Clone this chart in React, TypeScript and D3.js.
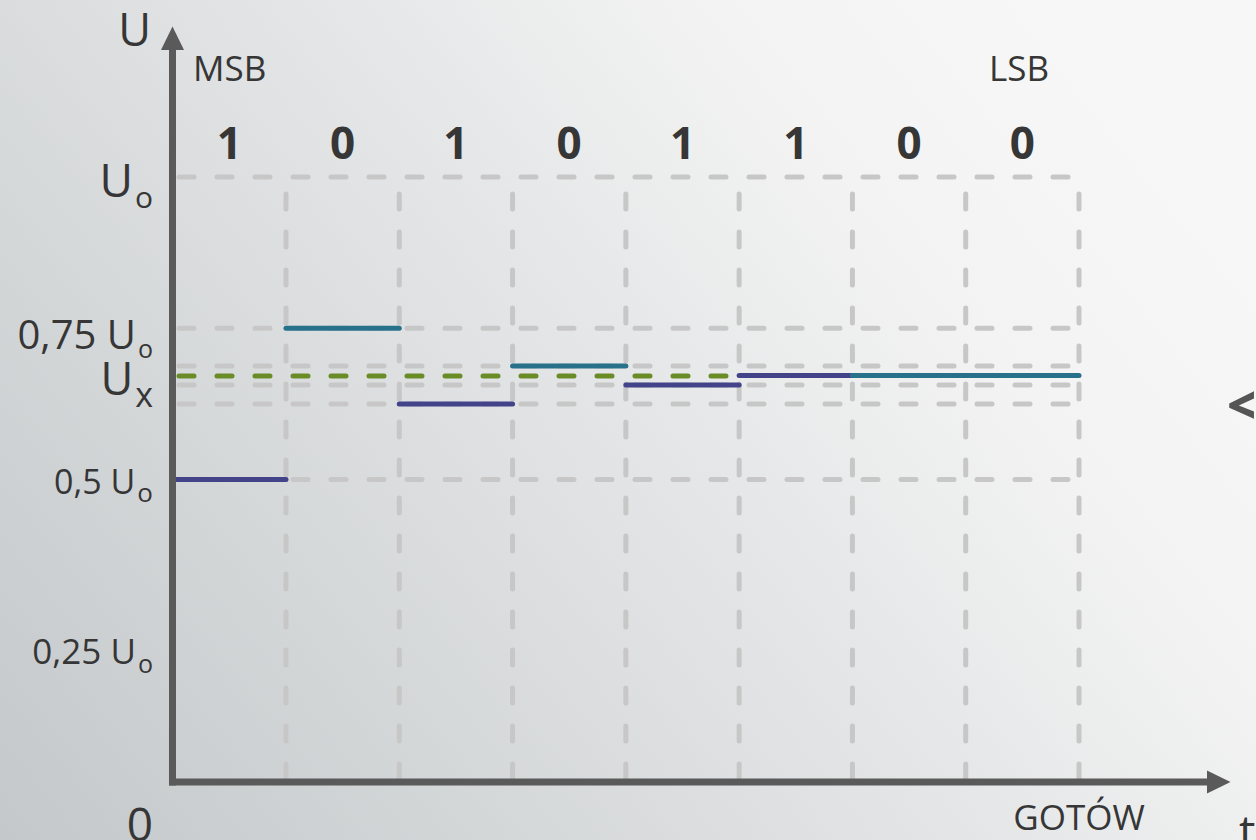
import * as d3 from "d3";
import { useEffect, useRef } from "react";

// 8-bit successive approximation, MSB -> LSB
const bits = ["1", "0", "1", "0", "1", "1", "0", "0"];
const trialLevels = [0.5, 0.75, 0.625, 0.6875, 0.65625, 0.671875, 0.671875, 0.671875];
const gridLevels = [1, 0.75, 0.6875, 0.65625, 0.625, 0.5];
const ux = 0.671;

const yTickValues = [1, 0.75, ux, 0.5, 0.25, 0];
const yTickMain = ["U", "0,75 U", "U", "0,5 U", "0,25 U", "0"];
const yTickSub = ["o", "o", "x", "o", "o", ""];

const W = 1256;
const H = 840;

export default function App() {
  const ref = useRef<SVGSVGElement>(null);

  useEffect(() => {
    const svg = d3.select(ref.current);
    svg.selectAll("*").remove();

    const x = d3.scaleLinear().domain([0, 8]).range([172.7, 1079]);
    const y = d3.scaleLinear().domain([0, 1]).range([782, 177]);

    const font = "'Open Sans', 'Noto Sans', sans-serif";
    const ink = "#363636";
    const axisCol = "#5a5a5a";
    const gridCol = "#c7c7c7";
    const colors = { "1": "#424389", "0": "#28718a" };

    // background
    const defs = svg.append("defs");
    const grad = defs
      .append("linearGradient")
      .attr("id", "bg")
      .attr("gradientUnits", "userSpaceOnUse")
      .attr("x1", 0)
      .attr("y1", H)
      .attr("x2", 1050)
      .attr("y2", 0);
    grad.append("stop").attr("offset", 0).attr("stop-color", "#c4c8ca");
    grad.append("stop").attr("offset", 0.5).attr("stop-color", "#e0e2e3");
    grad.append("stop").attr("offset", 0.8).attr("stop-color", "#f3f3f3");
    grad.append("stop").attr("offset", 1).attr("stop-color", "#f7f7f7");
    svg.append("rect").attr("width", W).attr("height", H).attr("fill", "url(#bg)");

    // dashed grid
    const grid = svg
      .append("g")
      .attr("stroke", gridCol)
      .attr("stroke-width", 5)
      .attr("stroke-linecap", "round")
      .attr("stroke-dasharray", "15 23");
    grid
      .selectAll("line.h")
      .data(gridLevels)
      .join("line")
      .attr("class", "h")
      .attr("x1", 179)
      .attr("x2", x(8))
      .attr("y1", (d) => y(d))
      .attr("y2", (d) => y(d));
    grid
      .selectAll("line.v")
      .data(d3.range(1, 9))
      .join("line")
      .attr("class", "v")
      .attr("x1", (d) => x(d))
      .attr("x2", (d) => x(d))
      .attr("y1", 194)
      .attr("y2", y(0) - 3);

    // Ux reference
    svg
      .append("line")
      .attr("x1", 179)
      .attr("x2", x(5))
      .attr("y1", y(ux))
      .attr("y2", y(ux))
      .attr("stroke", "#6a8c26")
      .attr("stroke-width", 5)
      .attr("stroke-linecap", "round")
      .attr("stroke-dasharray", "15 23");

    // comparator steps
    svg
      .append("g")
      .selectAll("line")
      .data(trialLevels)
      .join("line")
      .attr("x1", (d, i) => x(i))
      .attr("x2", (d, i) => x(i + 1))
      .attr("y1", (d) => y(d))
      .attr("y2", (d) => y(d))
      .attr("stroke", (d, i) => colors[bits[i]])
      .attr("stroke-width", 5)
      .attr("stroke-linecap", "round");

    // axes
    svg
      .append("line")
      .attr("x1", x(0) - 0.2)
      .attr("x2", x(0) - 0.2)
      .attr("y1", 48)
      .attr("y2", y(0) + 3.5)
      .attr("stroke", axisCol)
      .attr("stroke-width", 7);
    svg
      .append("line")
      .attr("x1", x(0) - 3.7)
      .attr("x2", 1209)
      .attr("y1", y(0))
      .attr("y2", y(0))
      .attr("stroke", axisCol)
      .attr("stroke-width", 7);
    svg
      .append("path")
      .attr("d", d3.line()([[161, 50], [172.5, 26.5], [184, 50]]) + "Z")
      .attr("fill", axisCol);
    svg
      .append("path")
      .attr("d", d3.line()([[1207, 770.5], [1230.5, 782], [1207, 793.5]]) + "Z")
      .attr("fill", axisCol);

    // bit values
    svg
      .append("g")
      .selectAll("text")
      .data(bits)
      .join("text")
      .attr("x", (d, i) => x(i + 0.5))
      .attr("y", 159)
      .attr("text-anchor", "middle")
      .attr("font-family", font)
      .attr("font-weight", 700)
      .attr("font-size", 44)
      .attr("fill", ink)
      .text((d) => d);

    // y labels (baseline offset, main size, sub size, sub shift)
    const tickStyle = [
      [20, 46, 30, 11],
      [21, 40, 25, 9],
      [19, 45, 34, 12],
      [14.5, 34, 26, 8],
      [33, 35, 25, 9],
      [58.5, 46, 0, 0],
    ];
    yTickValues.forEach((v, i) => {
      const [off, fs, ss, sh] = tickStyle[i];
      const t = svg
        .append("text")
        .attr("x", 153)
        .attr("y", y(v) + off)
        .attr("text-anchor", "end")
        .attr("font-family", font)
        .attr("fill", ink);
      t.append("tspan").attr("font-size", fs).text(yTickMain[i]);
      if (yTickSub[i])
        t.append("tspan")
          .attr("font-size", ss)
          .attr("dx", 2)
          .attr("dy", sh)
          .text(yTickSub[i]);
    });

    const label = (tx, ty, s, size, anchor = "start", weight = 400, fill = ink) =>
      svg
        .append("text")
        .attr("x", tx)
        .attr("y", ty)
        .attr("text-anchor", anchor)
        .attr("font-family", font)
        .attr("font-size", size)
        .attr("font-weight", weight)
        .attr("fill", fill)
        .text(s);

    label(151, 46, "U", 45, "end");
    label(193, 81, "MSB", 35);
    label(989, 81, "LSB", 35);
    label(x(8), 830, "GOTÓW", 35, "middle");
    label(1239, 848, "t", 46);
    label(1227, 423, "<", 50, "start", 800, "#555555");
  }, []);

  return (
    <svg
      ref={ref}
      width={W}
      height={H}
      style={{ position: "fixed", left: 0, top: 0, display: "block" }}
    />
  );
}
